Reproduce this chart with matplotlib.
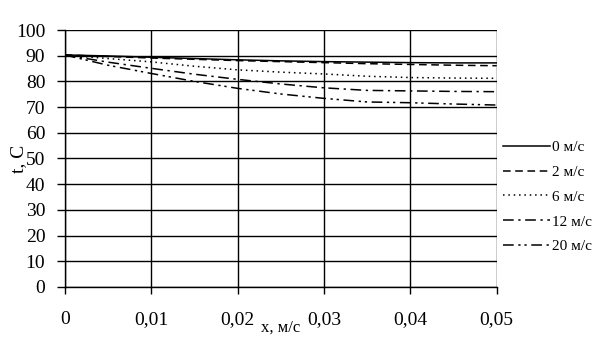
import matplotlib
matplotlib.use("Agg")
import matplotlib.pyplot as plt

plt.rcParams["font.family"] = ["Liberation Serif", "DejaVu Serif"]

x = [0.0, 0.005, 0.01, 0.015, 0.02, 0.025, 0.03, 0.035, 0.04, 0.045, 0.05]
series_labels = ["0 м/с", "2 м/с", "6 м/с", "12 м/с", "20 м/с"]
t_0 = [90.3, 89.9, 89.4, 88.9, 88.4, 88.0, 87.7, 87.5, 87.3, 87.2, 87.2]
t_2 = [90.3, 89.7, 89.1, 88.6, 88.1, 87.7, 87.3, 86.9, 86.6, 86.3, 86.1]
t_6 = [90.3, 88.9, 87.6, 85.9, 84.5, 83.6, 82.9, 82.0, 81.5, 81.3, 81.2]
t_12 = [90.3, 87.5, 85.1, 82.8, 80.8, 79.0, 77.5, 76.5, 76.3, 76.1, 76.0]
t_20 = [90.3, 86.3, 83.1, 80.0, 77.3, 75.1, 73.4, 72.0, 71.7, 71.2, 70.8]

styles = [
    "-",
    (0, (5, 3)),
    (0, (1, 2.5)),
    (0, (7, 3, 1.5, 3)),
    (0, (7, 3, 1.5, 2.5, 1.5, 3)),
]

fig = plt.figure(figsize=(6.05, 3.53), dpi=100)
ax = fig.add_axes([0.107, 0.187, 0.714, 0.728])

for ys, ls, lab in zip([t_0, t_2, t_6, t_12, t_20], styles, series_labels):
    ax.plot(x, ys, color="black", lw=1.1, linestyle=ls, label=lab)

ax.set_xlim(0, 0.05)
ax.set_ylim(0, 100)
ax.set_xticks([0, 0.01, 0.02, 0.03, 0.04, 0.05])
ax.set_xticklabels(["0", "0,01", "0,02", "0,03", "0,04", "0,05"])
ax.set_yticks(range(0, 101, 10))
ax.grid(True, color="black", lw=1.0)
ax.tick_params(axis="y", labelsize=14, length=6, width=1, direction="out", pad=8)
ax.tick_params(axis="x", labelsize=14, length=5, width=1, direction="out", pad=12)
for side in ["top", "right"]:
    ax.spines[side].set_visible(False)
for side in ["left", "bottom"]:
    ax.spines[side].set_linewidth(1.0)

ax.set_xlabel("x, м/с", fontsize=12)
ax.xaxis.set_label_coords(0.5, -0.128)
ax.set_ylabel("t, C", fontsize=14)
ax.yaxis.set_label_coords(-0.086, 0.5)

fig.legend(loc="center left", bbox_to_anchor=(0.831, 0.442), frameon=False,
           fontsize=11, handlelength=3.1, handletextpad=0.15,
           labelspacing=0.72, borderaxespad=0.0, borderpad=0.0)

fig.savefig("out.png", dpi=100, facecolor="white")
